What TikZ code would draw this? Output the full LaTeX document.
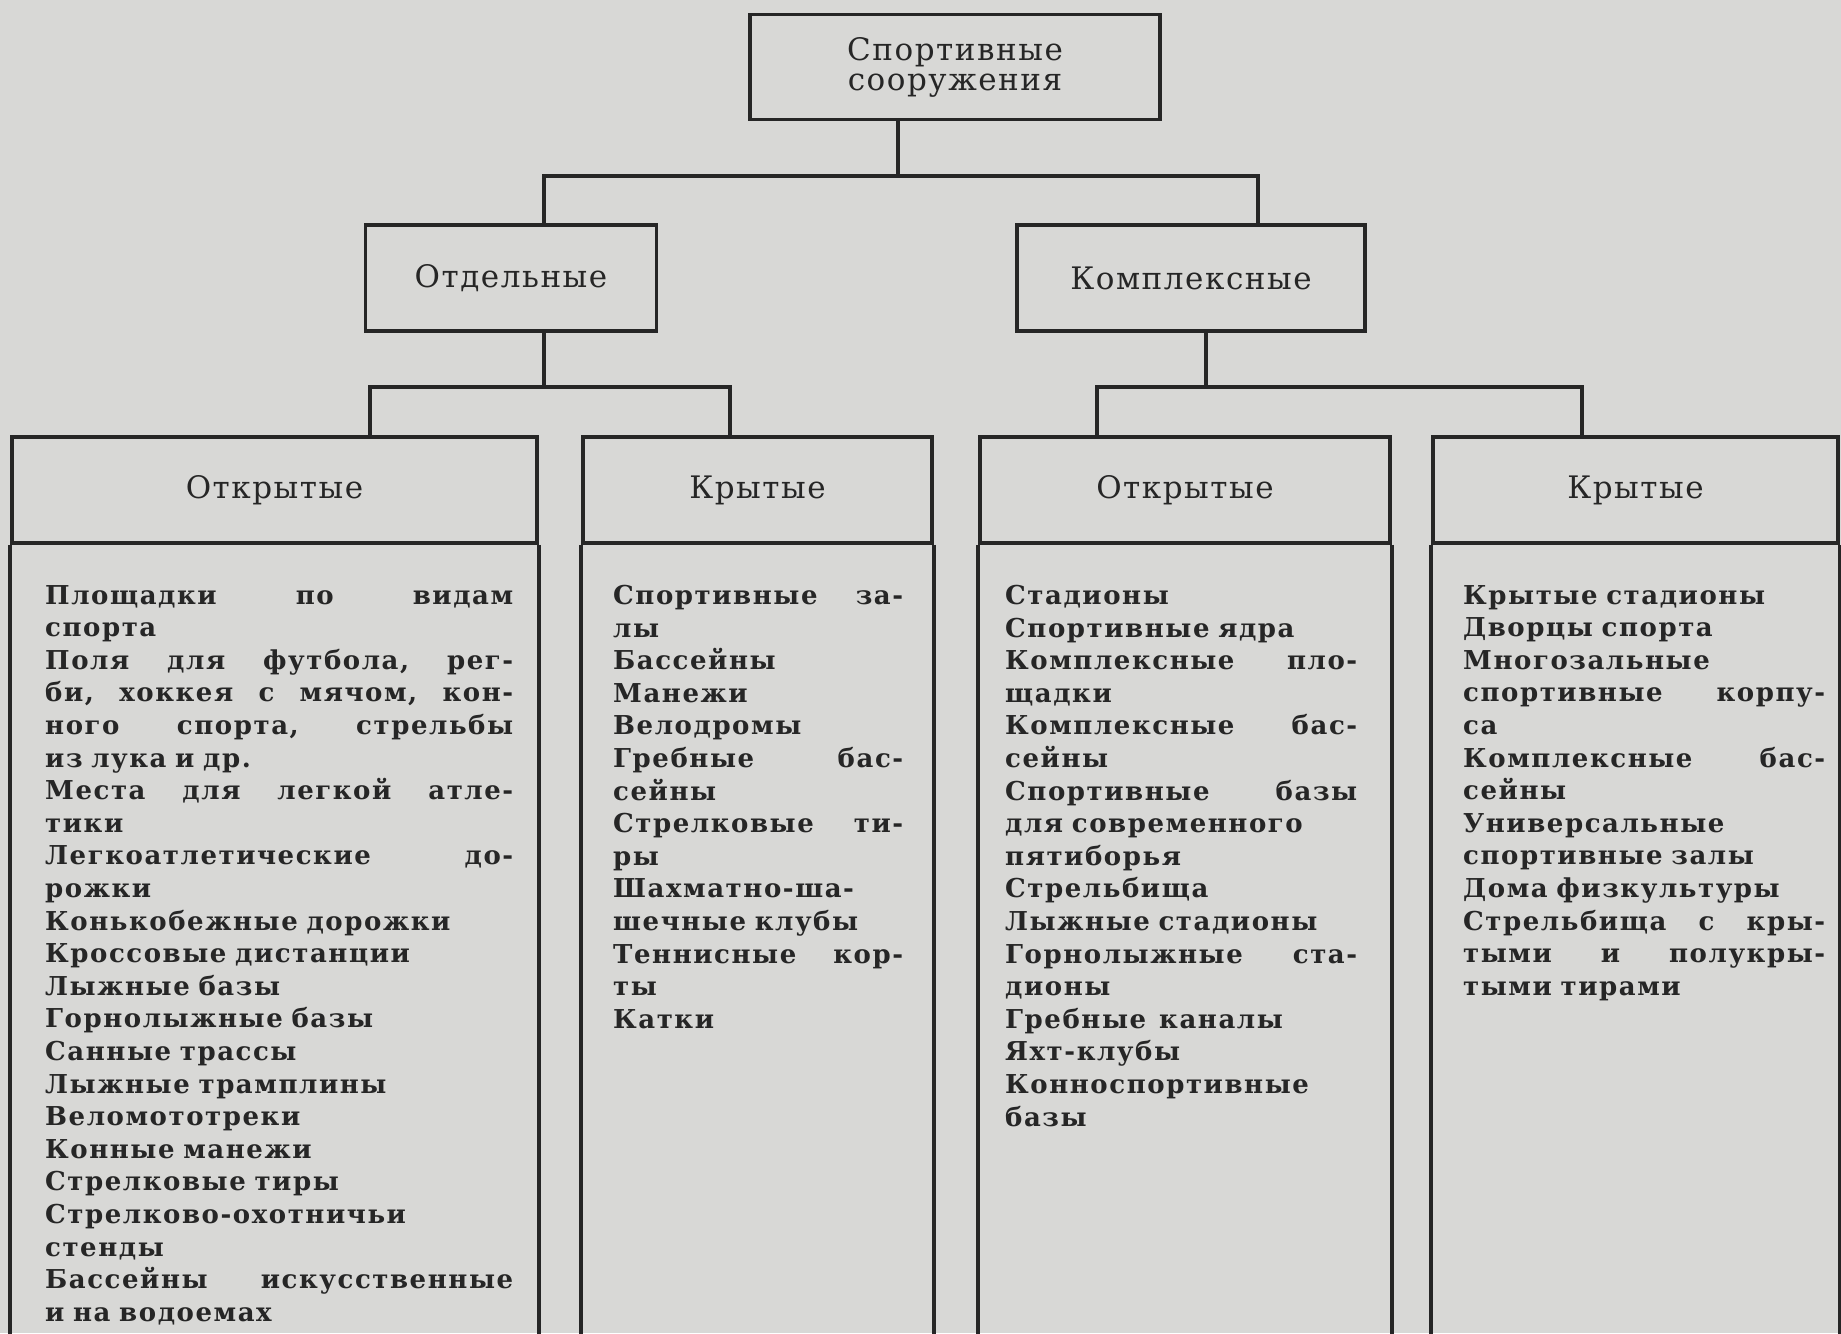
\documentclass[tikz,border=0pt]{standalone}
\usepackage{fontspec}
\setmainfont{DejaVu Serif}[LetterSpace=5]
\newfontfamily\listfont{DejaVu Serif}[LetterSpace=6]

\definecolor{paper}{RGB}{216,216,214}
\definecolor{ink}{RGB}{38,38,38}

\tikzset{
  box/.style={draw=ink, line width=3.6pt, text=ink, inner sep=0pt, align=center,
    font=\fontsize{31}{30}\selectfont},
  list/.style={anchor=north west, inner sep=0pt, text=ink, align=left,
    font=\listfont\bfseries\fontsize{26}{32.6}\selectfont},
  wire/.style={draw=ink, line width=3.6pt},
}

\begin{document}
\begin{tikzpicture}[x=1pt, y=-1pt]
    \useasboundingbox (0,0) rectangle (1841,1333);
    \fill[paper] (0,0) rectangle (1841,1333);

    % upper levels
    \node[box, minimum width=410pt, minimum height=105pt] (S) at (955,67) {Спортивные\\сооружения};
    \node[box, minimum width=291pt, minimum height=106pt] (O) at (511,278) {Отдельные};
    \node[box, minimum width=348pt, minimum height=106pt] (K) at (1191,278) {Комплексные};

    % column heads
    \node[box, minimum width=525pt, minimum height=106pt] (OO) at (274.5,490) {Открытые};
    \node[box, minimum width=349pt, minimum height=106pt] (OK) at (757.5,490) {Крытые};
    \node[box, minimum width=410pt, minimum height=106pt] (KO) at (1185,490) {Открытые};
    \node[box, minimum width=405pt, minimum height=106pt] (KK) at (1635.5,490) {Крытые};
    \foreach \c in {OO,OK,KO,KK} {
        \draw[wire] (\c.south west) -- ++(0,800);
        \draw[wire] (\c.south east) -- ++(0,800);
    }

    % branch points
    \coordinate (jS) at (898,176);
    \coordinate (jSl) at (544,176);
    \coordinate (jSr) at (1258,176);
    \coordinate (jO) at (544,387);
    \coordinate (jOl) at (370,387);
    \coordinate (jOr) at (730,387);
    \coordinate (jK) at (1206,387);
    \coordinate (jKl) at (1097,387);
    \coordinate (jKr) at (1582,387);

    \draw[wire] (S.south -| jS) -- (jS);
    \draw[wire] (O.north -| jSl) -- (jSl) -- (jSr) -- (K.north -| jSr);
    \draw[wire] (O.south -| jO) -- (jO);
    \draw[wire] (OO.north -| jOl) -- (jOl) -- (jOr) -- (OK.north -| jOr);
    \draw[wire] (K.south -| jK) -- (jK);
    \draw[wire] (KO.north -| jKl) -- (jKl) -- (jKr) -- (KK.north -| jKr);

    % lists
    \node[list, text width=468pt] (tOO) at (45,585) {%
        Площадки \hfill по \hfill видам\\
        спорта\\
        Поля \hfill для \hfill футбола, \hfill рег-\\
        би, \hfill хоккея \hfill с \hfill мячом, \hfill кон-\\
        ного \hfill спорта, \hfill стрельбы\\
        из лука и др.\\
        Места \hfill для \hfill легкой \hfill атле-\\
        тики\\
        Легкоатлетические \hfill до-\\
        рожки\\
        Конькобежные дорожки\\
        Кроссовые дистанции\\
        Лыжные базы\\
        Горнолыжные базы\\
        Санные трассы\\
        Лыжные трамплины\\
        Веломототреки\\
        Конные манежи\\
        Стрелковые тиры\\
        Стрелково-охотничьи\\
        стенды\\
        Бассейны \hfill искусственные\\
        и на водоемах};
    \node[list, text width=290pt] (tOK) at (613,585) {%
        Спортивные \hfill за-\\
        лы\\
        Бассейны\\
        Манежи\\
        Велодромы\\
        Гребные \hfill бас-\\
        сейны\\
        Стрелковые \hfill ти-\\
        ры\\
        Шахматно-ша-\\
        шечные клубы\\
        Теннисные \hfill кор-\\
        ты\\
        Катки};
    \node[list, text width=352pt] (tKO) at (1005,585) {%
        Стадионы\\
        Спортивные ядра\\
        Комплексные \hfill пло-\\
        щадки\\
        Комплексные \hfill бас-\\
        сейны\\
        Спортивные \hfill базы\\
        для современного\\
        пятиборья\\
        Стрельбища\\
        Лыжные стадионы\\
        Горнолыжные \hfill ста-\\
        дионы\\
        Гребные\enspace каналы\\
        Яхт-клубы\\
        Конноспортивные\\
        базы};
    \node[list, text width=362pt] (tKK) at (1463,585) {%
        Крытые стадионы\\
        Дворцы спорта\\
        Многозальные\\
        спортивные \hfill корпу-\\
        са\\
        Комплексные \hfill бас-\\
        сейны\\
        Универсальные\\
        спортивные залы\\
        Дома физкультуры\\
        Стрельбища \hfill с \hfill кры-\\
        тыми \hfill и \hfill полукры-\\
        тыми тирами};
\end{tikzpicture}
\end{document}
